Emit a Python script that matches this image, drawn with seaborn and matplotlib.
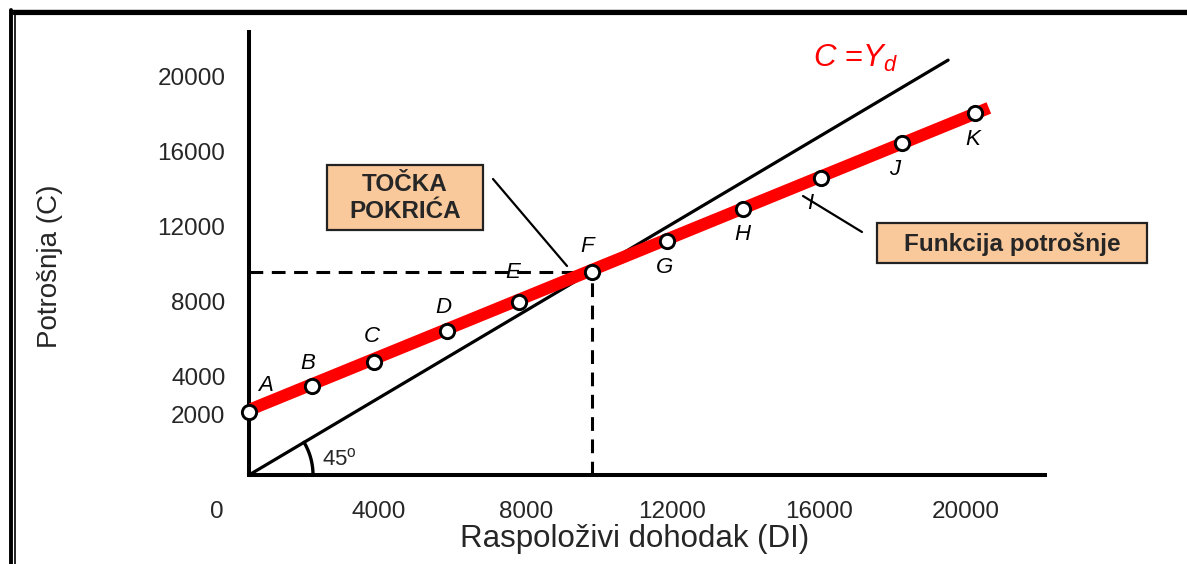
import numpy as np
import matplotlib
matplotlib.use("Agg")
import matplotlib.pyplot as plt
import matplotlib.patches as mpatches
from matplotlib.lines import Line2D
import seaborn as sns

# tocke A-K: raspolozivi dohodak (DI) i potrosnja (C)
point_names = ["A", "B", "C", "D", "E", "F", "G", "H", "I", "J", "K"]
dohodak = [460, 2180, 3870, 5860, 7820, 9810, 11850, 13920, 16050, 18250, 20250]
potrosnja = [2130, 3520, 4800, 6450, 8000, 9600, 11250, 12960, 14610, 16480, 18080]

# funkcija potrosnje (crveno) i pravac C = Yd (45 stupnjeva)
fn_x = [463, 20620]
fn_y = [2240, 18350]
line45_x = [463, 19510]
line45_y = [-1227, 20900]

# tocka pokrica
be_x = 9810
be_y = 9600

x_ticks = [4000, 8000, 12000, 16000, 20000]
y_ticks = [2000, 4000, 8000, 12000, 16000, 20000]
x_lim = (463, 22150)
y_lim = (-1227, 22400)

W, H = 1187, 564


def fxy(px, py):
    # reference pixel -> figure fraction
    return px / W, 1 - py / H


sns.set_style("white")
plt.rcParams["font.family"] = ["Liberation Sans", "DejaVu Sans"]
plt.rcParams["mathtext.fontset"] = "custom"
plt.rcParams["mathtext.rm"] = "Liberation Sans"
plt.rcParams["mathtext.it"] = "Liberation Sans:italic"

fig = plt.figure(figsize=(W / 100, H / 100), dpi=100)
ax = fig.add_axes([249 / W, (H - 475) / H, 796 / W, 443 / H])

# 45 degree line
sns.lineplot(x=line45_x, y=line45_y, color="black", linewidth=2.3, ax=ax,
             sort=False, zorder=2)
# consumption function
sns.lineplot(x=fn_x, y=fn_y, color="#ff0000", linewidth=8.8, ax=ax,
             sort=False, zorder=3, solid_capstyle="butt")
# dashed guides to break-even point
ax.plot([x_lim[0], be_x], [be_y, be_y], color="black", lw=2.2,
        dashes=(4.5, 2.8), zorder=1)
ax.plot([be_x, be_x], [y_lim[0], be_y], color="black", lw=2.2,
        dashes=(4.5, 2.8), zorder=1)

sns.scatterplot(x=dohodak, y=potrosnja, s=105, color="white",
                edgecolor="black", linewidth=2.1, zorder=5, clip_on=False, ax=ax)

# letter labels (offsets in pixels, y down)
offs = [(17, -27), (-4, -22), (-2, -25), (-4, -24), (-6, -29), (-5, -25),
        (-2, 26), (-1, 26), (-11, 25), (-7, 27), (-3, 27)]
for name, x, y, (dx, dy) in zip(point_names, dohodak, potrosnja, offs):
    ax.annotate(name, (x, y), xytext=(dx * 0.72, -dy * 0.72),
                textcoords="offset points", ha="center", va="center",
                fontsize=16, fontstyle="italic", color="black", zorder=6)

# 45 degree arc
sx = 796 / (x_lim[1] - x_lim[0])
sy = 443 / (y_lim[1] - y_lim[0])
ang = np.arctan2((line45_y[1] - line45_y[0]) * sy, (line45_x[1] - line45_x[0]) * sx)
t = np.linspace(0, ang, 50)
r = 64
ax.plot(line45_x[0] + r * np.cos(t) / sx, line45_y[0] + r * np.sin(t) / sy,
        color="black", lw=2.4, clip_on=False)

ax.set_xlim(*x_lim)
ax.set_ylim(*y_lim)
ax.set_xticks(x_ticks)
ax.set_xticklabels([str(v) for v in x_ticks])
ax.set_yticks(y_ticks)
ax.set_yticklabels([str(v) for v in y_ticks])
ax.tick_params(axis="x", length=0, labelsize=17.5, pad=19)
ax.tick_params(axis="y", length=0, labelsize=17.5, pad=17)
for s in ["top", "right"]:
    ax.spines[s].set_visible(False)
for s in ["left", "bottom"]:
    ax.spines[s].set_linewidth(2.9)
    ax.spines[s].set_color("black")
    ax.spines[s].set_capstyle("projecting")

ax.set_xlabel("Raspoloživi dohodak (DI)", fontsize=22.5)
ax.xaxis.set_label_coords((635 - 249) / 796, (475 - 524) / 443)
ax.set_ylabel("Potrošnja (C)", fontsize=20)
ax.yaxis.set_label_coords((63 - 249) / 796, (475 - 266) / 443)

fig.text(*fxy(217, 512), "0", fontsize=17.5, ha="center", va="center")
fig.text(*fxy(322, 465), "45$^{\\mathrm{o}}$", fontsize=16, ha="left",
         va="baseline")
fig.text(*fxy(856, 58), "$C$ =$Y_d$", fontsize=22.5, color="#ff0000",
         ha="center", va="center")

# callout boxes
box_fc = "#f9c89b"
for (x0, y0, x1, y1) in [(327, 165, 483, 230), (877, 223, 1147, 263)]:
    bx, by = fxy(x0, y1)
    fig.patches.append(mpatches.Rectangle((bx, by), (x1 - x0) / W, (y1 - y0) / H,
                                          transform=fig.transFigure,
                                          facecolor=box_fc, edgecolor="#222222",
                                          lw=1.6, zorder=10))
fig.text(*fxy(405, 198), "TOČKA\nPOKRIĆA", fontsize=17.5, fontweight="bold",
         ha="center", va="center", linespacing=1.2, zorder=11)
fig.text(*fxy(1012, 244), "Funkcija potrošnje", fontsize=17.5,
         fontweight="bold", ha="center", va="center", zorder=11)

# connector lines
for (x0, y0, x1, y1) in [(493, 179, 567, 266), (803, 196, 862, 232)]:
    a, b = fxy(x0, y0)
    c, d = fxy(x1, y1)
    fig.lines.append(Line2D([a, c], [b, d], transform=fig.transFigure,
                            color="black", lw=1.6))

# frame
for (xs, ys, lw) in [((10 / W, 1), (1 - 9.8 / H, 1 - 9.8 / H), 1.0),
                     ((14 / W, 1), (1 - 13.3 / H, 1 - 13.3 / H), 3.0),
                     ((11 / W, 11 / W), (0, 1 - 9.5 / H), 2.8),
                     ((14.8 / W, 14.8 / W), (0, 1 - 14 / H), 1.2)]:
    fig.lines.append(Line2D(xs, ys, transform=fig.transFigure,
                            color="black", lw=lw))

fig.savefig("out.png", dpi=100)
